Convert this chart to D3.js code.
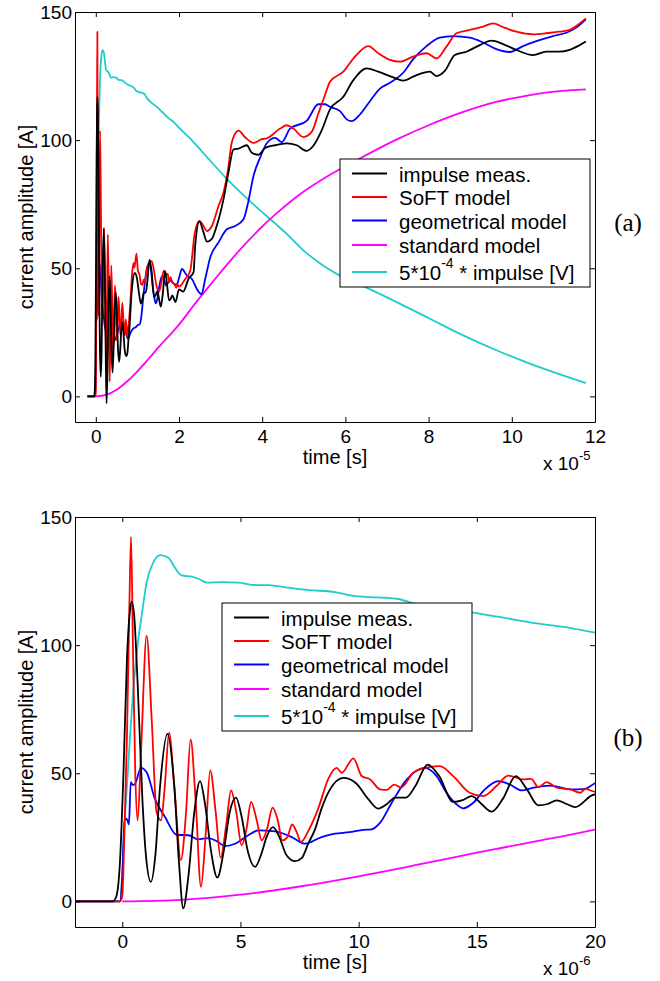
<!DOCTYPE html>
<html>
<head>
<meta charset="utf-8">
<script src="https://cdn.jsdelivr.net/npm/d3@7"></script>
<style>
  body { margin: 0; background: #fff; }
  svg { display: block; font-family: "Liberation Sans", Arial, Helvetica, sans-serif; }
</style>
</head>
<body>
<svg width="660" height="981"></svg>
<script>
// time in microseconds, current in A
const impulseMeas = [
  [-2,0],[-0.4,0],[-0.25,2],[-0.1,15],[0.05,50],[0.2,95],[0.32,113],[0.4,117],[0.5,112],[0.65,85],[0.85,40],[1.0,18],[1.21,7.6],[1.4,18],[1.6,45],[1.91,65.4],[2.2,45],[2.4,15],[2.58,-2.7],[2.8,10],[3.05,35],[3.29,46.9],[3.5,38],[3.75,20],[4.02,9.3],[4.3,20],[4.55,35],[4.81,40.5],[5.05,33],[5.3,20],[5.62,13.5],[5.9,19],[6.1,25],[6.38,29],[6.65,25],[6.95,18],[7.31,15.7],[7.6,17],[7.87,22.6],[8.15,28],[8.43,36.2],[8.79,43.7],[9.36,48.2],[9.9,46],[10.4,40],[10.83,36.2],[11.2,38],[11.54,40.5],[12.0,40.5],[12.4,45],[12.92,53.4],[13.4,49],[14.0,38.8],[14.4,39.5],[14.78,41.1],[15.2,38],[15.63,35],[16.1,40],[16.65,48.9],[17.1,44],[17.6,37.5],[18.0,38],[18.38,39.4],[18.8,38],[19.16,36.8],[19.98,41.7],
  [21,40.9],[22.3,45.9],[23.5,48.5],[23.9,58.9],[24.9,68.2],[25.9,64],[26.7,60.4],[27.9,61.5],[29.1,66.7],[30.7,77],[31.9,87.5],[33.1,96.4],[34.3,96.7],[36.3,98],[37.5,95.1],[39.1,94.3],[40.7,96.9],[43.1,98],[45.9,98.7],[48.3,98],[50.7,95.8],[52.3,97.8],[54.3,103.8],[56.3,112],[59.5,116.9],[61.9,123.4],[65.1,128],[67.9,126.7],[71.5,124.5],[73.9,123.2],[77.1,125.4],[80.3,126.7],[81.9,125],[83.9,127],[86.3,133.2],[89.1,134.5],[92.3,137.1],[95.1,138.8],[97.9,137.5],[101.1,135.2],[105.1,133.2],[108.3,134.5],[111.5,134.5],[113.9,135.2],[115.9,136.7],[117.8,138.5]
]

const softModel = [
  [-2,0],[-0.1,0],[0.0,2],[0.1,30],[0.2,65],[0.3,115],[0.37,142.3],[0.45,100],[0.55,50],[0.65,31.6],[0.8,60],[1.03,103.6],[1.25,70],[1.45,35],[1.64,31.6],[1.8,45],[1.98,65.8],[2.2,45],[2.48,16.1],[2.7,35],[2.89,63.2],[3.1,40],[3.33,5.7],[3.52,25],[3.72,51.1],[3.95,35],[4.16,17],[4.4,30],[4.6,43.3],[4.82,35],[5.05,21.9],[5.25,28],[5.45,38.8],[5.68,32],[5.9,23.8],[6.12,28],[6.36,36.6],[6.57,32],[6.77,23.8],[6.98,25],[7.19,30],[7.38,27],[7.56,23.2],[7.9,28],[8.29,36.2],[8.72,47.9],[9.07,52.1],[9.28,50.2],[9.78,55.8],[10.13,48.9],[10.49,47.6],[10.91,43.7],[11.2,43.5],[11.5,45.6],[11.8,44.5],[12.31,50.2],[13.02,52.5],[13.44,52.8],[14.0,48.9],[14.7,42.4],[15.27,41.1],[15.83,45],[16.33,49.1],[16.96,47.6],[17.3,47.8],[17.6,44.6],[17.96,46.5],[18.38,44.4],[18.95,43.7],[19.37,42.4],[19.6,43.9],[19.98,42.8],
  [21.5,45.8],[22.7,49],[23.8,63.9],[24.9,68.5],[25.9,66.5],[26.7,64.5],[27.9,66.5],[29.5,74.3],[30.7,79.6],[31.8,88.7],[32.7,99.2],[34.3,103.7],[35.9,101.1],[37.9,98.9],[39.9,100.4],[41.1,100.7],[44.3,104.5],[45.9,105.8],[47.5,104.5],[49.9,101.2],[51.9,103.2],[53.5,110.4],[55.1,117.6],[56.3,122.8],[59.5,126.7],[62.3,132.6],[65.5,136.7],[67.9,133.9],[70.7,131.3],[73.1,130.6],[76.3,132.6],[79.5,133.9],[81.9,131.9],[84.3,136.5],[86.7,141.7],[89.9,143],[93.1,144.3],[95.5,145.6],[97.9,144.1],[101.1,142.3],[105.1,141.3],[108.3,141.7],[111.5,142.3],[113.9,143],[115.9,145],[117.8,147.5]
]

const geomModel = [
  [-2,0],[-0.1,0],[0.0,10],[0.1,32.5],[0.2,32],[0.28,30],[0.36,46.5],[0.45,45.4],[0.55,46],[0.79,52.1],[1.03,50.4],[1.38,40],[1.81,32.9],[2.3,26],[2.8,25.8],[3.21,24.2],[3.64,24.7],[4.0,23.5],[4.34,21.6],[4.77,22.5],[5.33,25.8],[5.76,27.7],[6.46,27.3],[7.17,25.1],[7.73,22.5],[8.43,25.1],[9.0,26.4],[9.6,27],[10.2,27.9],[10.55,28.1],[10.91,30.7],[11.4,38.5],[12.04,47.6],[12.8,52.1],[13.3,48.9],[13.72,42.4],[14.14,37.9],[14.42,36.3],[14.85,38.5],[15.34,43.7],[15.91,46.9],[16.4,45.6],[16.9,43.3],[17.4,44.4],[18.1,45.2],[18.95,43.7],[19.51,43.8],[19.98,46],
  [20.7,49.7],[21.9,47.1],[23.1,45.8],[24.3,41.9],[25.4,39.9],[26.3,45.8],[27.5,54.2],[29.5,60.1],[31.5,65.2],[33.5,66.5],[35.5,69.1],[36.7,76.3],[37.9,86],[39.5,93.2],[41.1,98.8],[43.1,100.9],[44.7,99.2],[46.7,104.5],[50.7,107.5],[53.5,114],[55.1,114],[56.3,113],[58.7,111.3],[60.3,108.1],[61.5,107.4],[63.5,110],[65.9,115.2],[68.3,120.1],[70.7,122.4],[73.9,126.3],[76.3,131.6],[79.5,136.7],[82.7,140],[85.9,140.6],[89.9,140],[93.1,138.1],[96.3,135.5],[99.5,134.4],[102.7,136.7],[105.9,138.6],[109.9,140.6],[113.1,141.9],[115.5,143.9],[117.8,147.1]
]

const standardModel = [
  [0,0],[2.5,0.6],[5,2.6],[7.5,5.8],[10,9.8],[12.5,14.3],[15,19],[20,28],[24,36.5],[28,44.5],[32,52.3],[36,59.6],[40,66.3],[44,72.2],[49,78.8],[56,86.2],[64,93.3],[72,100],[80,105.8],[88,110.8],[96,114.8],[104,117.5],[112,119.2],[117.8,119.8]
]

const impulseVolt = [
  [-2,0],[-0.1,0],[0.12,33.6],[0.3,60],[0.47,82.9],[0.65,100],[0.82,111.4],[1.03,124.4],[1.31,132.2],[1.6,135.1],[1.95,134.1],[2.23,130.2],[2.51,127.2],[2.94,126.7],[3.29,125.6],[3.57,124.4],[4.2,124.6],[4.91,124.4],[5.47,123.5],[6.18,123.4],[7.03,122.4],[7.87,121.5],[9.0,120.7],[9.78,119.2],[11.62,118.1],[12.33,116.3],[14.86,112.7],[16.13,110.7],[17.54,108.5],[18.67,107.1],[19.98,104.9],
  [23.1,99.9],[27.1,92.7],[31.1,85.6],[35.1,79.1],[39.1,73.2],[43.1,67.5],[45.9,63.4],[49.9,57],[57.9,47.8],[64.3,43],[72.3,36.8],[80.3,30.3],[88.3,23.8],[96.3,18],[104.3,12.8],[112.3,8.2],[117.8,5.2]
]

const seriesNames = ["impulse meas.", "SoFT model", "geometrical model", "standard model", "impulse [V]"]
const seriesColors = ["#000000", "#ff0000", "#0000ff", "#ff00ff", "#1fcccc"]
const yTicks = [0, 50, 100, 150]
const topTicks = [0, 2, 4, 6, 8, 10, 12]
const bottomTicks = [0, 5, 10, 15, 20]

const allSeries = [impulseMeas, softModel, geomModel, standardModel, impulseVolt]
const drawOrder = [4, 3, 2, 1, 0]

const svg = d3.select("svg")

const panels = [
  { id: "a", y0: 12, y1: 422, xDomain: [-0.5, 12], unit: 0.1, ticks: topTicks, expo: "-5", legendX: 340, legendY: 159, tagY: 231 },
  { id: "b", y0: 517, y1: 927, xDomain: [-2, 20], unit: 1, ticks: bottomTicks, expo: "-6", legendX: 222, legendY: 603, tagY: 746 }
]

const x0 = 75, x1 = 595

panels.forEach(p => {
  const scaleX = d3.scaleLinear().domain(p.xDomain).range([x0, x1])
  const scaleY = d3.scaleLinear().domain([-10, 150]).range([p.y1, p.y0])

  const g = svg.append("g").attr("class", "panel-" + p.id)

  g.append("clipPath")
    .attr("id", "clip-" + p.id)
    .append("rect")
    .attr("x", x0).attr("y", p.y0)
    .attr("width", x1 - x0).attr("height", p.y1 - p.y0)

  const line = d3.line()
    .x(d => scaleX(d[0] * p.unit))
    .y(d => scaleY(d[1]))
    .curve(d3.curveMonotoneX)

  const lines = g.append("g").attr("clip-path", `url(#clip-${p.id})`)
  drawOrder.forEach(i => {
    lines.append("path")
      .datum(allSeries[i])
      .attr("d", line)
      .attr("fill", "none")
      .attr("stroke", seriesColors[i])
      .attr("stroke-width", 1.8)
      .attr("stroke-linejoin", "round")
  })

  // axes, MATLAB style box with inward ticks
  const axisB = d3.axisBottom(scaleX).tickValues(p.ticks).tickSizeInner(-5).tickSizeOuter(0).tickPadding(8)
  const axisT = d3.axisTop(scaleX).tickValues(p.ticks).tickSizeInner(-5).tickSizeOuter(0).tickFormat("")
  const axisL = d3.axisLeft(scaleY).tickValues(yTicks).tickSizeInner(-5).tickSizeOuter(0).tickPadding(3)
  const axisR = d3.axisRight(scaleY).tickValues(yTicks).tickSizeInner(-5).tickSizeOuter(0).tickFormat("")

  g.append("g").attr("transform", `translate(0, ${p.y1})`).call(axisB)
  g.append("g").attr("transform", `translate(0, ${p.y0})`).call(axisT)
  g.append("g").attr("transform", `translate(${x0}, 0)`).call(axisL)
  g.append("g").attr("transform", `translate(${x1}, 0)`).call(axisR)

  g.selectAll(".tick text")
    .attr("font-family", "Liberation Sans, Arial, sans-serif")
    .attr("font-size", 19)
    .attr("fill", "#000")
  g.selectAll(".domain, .tick line").attr("stroke", "#000").attr("stroke-width", 1)

  // axis titles
  g.append("text")
    .attr("x", (x0 + x1) / 2)
    .attr("y", p.y1 + 42)
    .attr("text-anchor", "middle")
    .attr("font-size", 20)
    .text("time [s]")

  g.append("text")
    .attr("transform", `translate(33, ${(p.y0 + p.y1) / 2}) rotate(-90)`)
    .attr("text-anchor", "middle")
    .attr("font-size", 20)
    .text("current amplitude [A]")

  const expo = g.append("text")
    .attr("x", 543)
    .attr("y", p.y1 + 48)
    .attr("font-size", 19)
  expo.append("tspan").text("x 10")
  expo.append("tspan").attr("dy", -10).attr("font-size", 13).text(p.expo)

  // legend
  const lg = g.append("g").attr("transform", `translate(${p.legendX}, ${p.legendY})`)
  lg.append("rect")
    .attr("width", 250).attr("height", 128)
    .attr("fill", "#fff").attr("stroke", "#000").attr("stroke-width", 1)

  const rowY = [14.5, 38, 61.5, 86, 113]
  seriesNames.forEach((name, i) => {
    lg.append("line")
      .attr("x1", 12).attr("x2", 47)
      .attr("y1", rowY[i]).attr("y2", rowY[i])
      .attr("stroke", seriesColors[i]).attr("stroke-width", 1.8)
    const t = lg.append("text")
      .attr("x", 59)
      .attr("y", rowY[i] + 8)
      .attr("font-size", 20.5)
    if (i === 4) {
      t.append("tspan").text("5*10")
      t.append("tspan").attr("dy", -12).attr("font-size", 14).text("-4")
      t.append("tspan").attr("dy", 12).text(" * " + name)
    } else {
      t.text(name)
    }
  })

  svg.append("text")
    .attr("x", 628)
    .attr("y", p.tagY)
    .attr("text-anchor", "middle")
    .attr("font-family", "Liberation Serif, Times New Roman, serif")
    .attr("font-size", 25)
    .text(`(${p.id})`)
})
</script>
</body>
</html>
